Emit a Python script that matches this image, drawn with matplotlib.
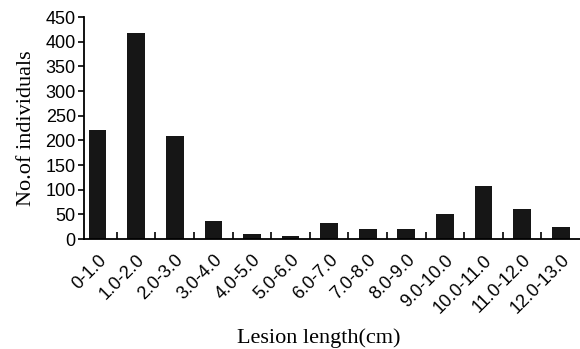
import matplotlib
matplotlib.use('Agg')
import matplotlib.pyplot as plt
import numpy as np

categories = ['0-1.0', '1.0-2.0', '2.0-3.0', '3.0-4.0', '4.0-5.0', '5.0-6.0',
              '6.0-7.0', '7.0-8.0', '8.0-9.0', '9.0-10.0', '10.0-11.0',
              '11.0-12.0', '12.0-13.0']
counts = [222, 417, 209, 36, 10, 7, 32, 21, 21, 50, 108, 61, 25]
y_ticks = [0, 50, 100, 150, 200, 250, 300, 350, 400, 450]

fig = plt.figure(figsize=(5.8, 3.49), dpi=100)
ax = fig.add_axes([0.145, 0.315, 0.855, 0.636])

x = np.arange(len(categories))
ax.bar(x, counts, width=0.46, color='#161616')

ax.set_xlim(-0.35, len(categories) - 0.5)
ax.set_ylim(0, 450)
ax.set_yticks(y_ticks)
ax.set_yticklabels([str(v) for v in y_ticks], family='Liberation Sans', fontsize=13)

# category labels sit under the bars, ticks sit between them
ax.set_xticks(x)
ax.set_xticklabels(categories, rotation=45, ha='right', rotation_mode='anchor',
                   family='Liberation Sans', fontsize=13)
ax.tick_params(axis='x', which='major', length=0, pad=9)
ax.set_xticks(x[:-1] + 0.5, minor=True)
ax.tick_params(axis='x', which='minor', direction='in', length=5, width=1.2)
ax.tick_params(axis='y', direction='out', length=4, width=1.2, pad=2)

for side in ('top', 'right'):
    ax.spines[side].set_visible(False)
for side in ('left', 'bottom'):
    ax.spines[side].set_linewidth(1.3)

ax.set_ylabel('No.of individuals', family='Liberation Serif', fontsize=16, labelpad=7)
ax.set_xlabel('Lesion length(cm)', family='Liberation Serif', fontsize=16)
ax.xaxis.set_label_coords(0.474, -0.40)

fig.savefig('out.png', dpi=100)
